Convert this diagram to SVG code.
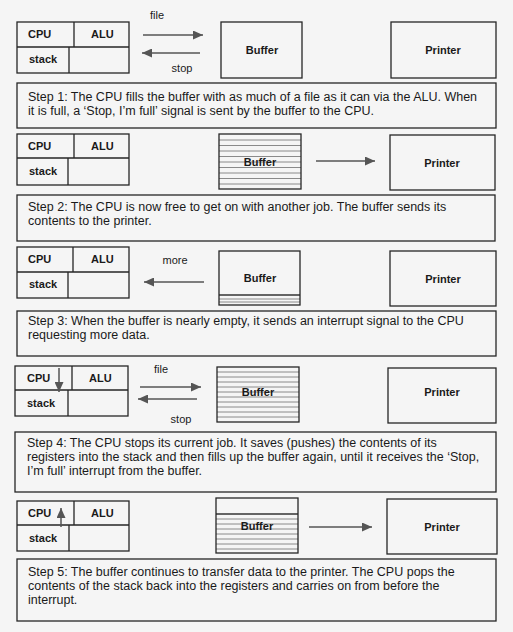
<svg xmlns="http://www.w3.org/2000/svg" width="513" height="632" viewBox="0 0 513 632">
<style>
.box{fill:none;stroke:#262626;stroke-width:1.3}
.ln{stroke:#262626;stroke-width:1.3;fill:none}
.lbl{font-family:"Liberation Sans",Arial,sans-serif;font-size:11px;font-weight:bold;fill:#1a1a1a}
.cap{font-family:"Liberation Sans",Arial,sans-serif;font-size:11px;fill:#1a1a1a;text-anchor:middle}
.txt{font-family:"Liberation Sans",Arial,sans-serif;font-size:12.5px;fill:#1a1a1a}
.mid{text-anchor:middle}
.hatch{stroke:#8a8a8a;stroke-width:1}
.dark{stroke:#333;stroke-width:1.3}
.arr{stroke:#555;stroke-width:1.5;fill:none;marker-end:url(#ah)}
</style>
<defs>
<marker id="ah" viewBox="0 0 10 9" refX="10" refY="4.5" markerWidth="10" markerHeight="9" markerUnits="userSpaceOnUse" orient="auto">
<path d="M0,0 L10,4.5 L0,9 z" fill="#555"/>
</marker>
</defs>
<rect width="513" height="632" fill="#f5f5f5"/>

<!-- Step 1 -->
<g id="cpu1">
<rect class="box" x="17" y="22" width="112" height="51"/>
<path class="ln" d="M17,47 H129 M74,22 V47 M69,47 V73"/>
<text class="lbl" x="28" y="38">CPU</text>
<text class="lbl" x="91" y="38">ALU</text>
<text class="lbl" x="29" y="63">stack</text>
</g>
<g id="buffer1">
<rect class="box" x="221" y="22" width="81" height="56"/>
<text class="lbl mid" x="262" y="54">Buffer</text>
</g>
<g id="printer1">
<rect class="box" x="391" y="22" width="105" height="56"/>
<text class="lbl mid" x="443" y="54">Printer</text>
</g>
<g id="step1">
<rect class="box" x="17" y="83" width="479" height="45"/>
<text class="txt" x="28" y="101">Step 1: The CPU fills the buffer with as much of a file as it can via the ALU. When</text>
<text class="txt" x="28" y="115">it is full, a ‘Stop, I’m full’ signal is sent by the buffer to the CPU.</text>
</g>

<!-- Step 2 -->
<g id="cpu2">
<rect class="box" x="17" y="134" width="112" height="51"/>
<path class="ln" d="M17,158 H129 M74,134 V158 M68,158 V185"/>
<text class="lbl" x="28" y="150">CPU</text>
<text class="lbl" x="91" y="150">ALU</text>
<text class="lbl" x="29" y="175">stack</text>
</g>
<g id="buffer2">
<path class="hatch" d="M219,140 H301 M219,145.5 H301 M219,151 H301 M219,156.5 H301 M219,162 H301 M219,167.5 H301 M219,173 H301 M219,178.5 H301 M219,184 H301"/>
<rect class="box" x="219" y="134" width="82" height="55"/>
<text class="lbl mid" x="260" y="166">Buffer</text>
</g>
<g id="printer2">
<rect class="box" x="390" y="135" width="105" height="55"/>
<text class="lbl mid" x="442" y="167">Printer</text>
</g>
<g id="step2">
<rect class="box" x="17" y="195" width="478" height="46"/>
<text class="txt" x="28" y="211">Step 2: The CPU is now free to get on with another job. The buffer sends its</text>
<text class="txt" x="28" y="225">contents to the printer.</text>
</g>

<!-- Step 3 -->
<g id="cpu3">
<rect class="box" x="17" y="247" width="112" height="51"/>
<path class="ln" d="M17,272 H129 M73,247 V272 M68,272 V298"/>
<text class="lbl" x="28" y="263">CPU</text>
<text class="lbl" x="91" y="263">ALU</text>
<text class="lbl" x="29" y="288">stack</text>
</g>
<g id="buffer3">
<path class="hatch" d="M219,299 H300 M219,302 H300"/>
<path class="dark" d="M219,295 H300"/>
<rect class="box" x="219" y="251" width="81" height="54"/>
<text class="lbl mid" x="260" y="282">Buffer</text>
</g>
<g id="printer3">
<rect class="box" x="390" y="251" width="106" height="55"/>
<text class="lbl mid" x="443" y="283">Printer</text>
</g>
<g id="step3">
<rect class="box" x="17" y="311" width="479" height="45"/>
<text class="txt" x="28" y="325">Step 3: When the buffer is nearly empty, it sends an interrupt signal to the CPU</text>
<text class="txt" x="28" y="339">requesting more data.</text>
</g>

<!-- Step 4 -->
<g id="cpu4">
<rect class="box" x="15" y="366" width="113" height="50"/>
<path class="ln" d="M15,390 H128 M72,366 V390 M68,390 V416"/>
<text class="lbl" x="27" y="382">CPU</text>
<text class="lbl" x="89" y="382">ALU</text>
<text class="lbl" x="27" y="407">stack</text>
</g>
<g id="buffer4">
<path class="hatch" d="M217,372 H299 M217,377 H299 M217,382 H299 M217,387 H299 M217,392 H299 M217,397 H299 M217,402 H299 M217,407 H299 M217,412 H299 M217,417 H299"/>
<rect class="box" x="217" y="367" width="82" height="55"/>
<text class="lbl mid" x="258" y="396">Buffer</text>
</g>
<g id="printer4">
<rect class="box" x="388" y="368" width="108" height="55"/>
<text class="lbl mid" x="442" y="396">Printer</text>
</g>
<g id="step4">
<rect class="box" x="15" y="432" width="481" height="60"/>
<text class="txt" x="27" y="447">Step 4: The CPU stops its current job. It saves (pushes) the contents of its</text>
<text class="txt" x="27" y="461">registers into the stack and then fills up the buffer again, until it receives the ‘Stop,</text>
<text class="txt" x="27" y="475">I’m full’ interrupt from the buffer.</text>
</g>

<!-- Step 5 -->
<g id="cpu5">
<rect class="box" x="17" y="501" width="112" height="50"/>
<path class="ln" d="M17,525 H129 M74,501 V525 M69,525 V551"/>
<text class="lbl" x="28" y="517">CPU</text>
<text class="lbl" x="91" y="517">ALU</text>
<text class="lbl" x="29" y="542">stack</text>
</g>
<g id="buffer5">
<path class="hatch" d="M216,519 H298 M216,524 H298 M216,529 H298 M216,534 H298 M216,539 H298 M216,544 H298 M216,549 H298"/>
<path class="dark" d="M216,514 H298"/>
<rect class="box" x="216" y="498" width="82" height="55"/>
<text class="lbl mid" x="257" y="530">Buffer</text>
</g>
<g id="printer5">
<rect class="box" x="387" y="499" width="110" height="55"/>
<text class="lbl mid" x="442" y="531">Printer</text>
</g>
<g id="step5">
<rect class="box" x="17" y="559" width="479" height="62"/>
<text class="txt" x="28" y="576">Step 5: The buffer continues to transfer data to the printer. The CPU pops the</text>
<text class="txt" x="28" y="590">contents of the stack back into the registers and carries on from before the</text>
<text class="txt" x="28" y="604">interrupt.</text>
</g>

<!-- Connectors -->
<g id="connectors">
<path class="arr" d="M143,35 H203"/>
<path class="arr" d="M200,53 H142"/>
<text class="cap" x="157" y="19">file</text>
<text class="cap" x="182" y="72">stop</text>
<path class="arr" d="M316,161 H375"/>
<path class="arr" d="M204,282 H144"/>
<text class="cap" x="175" y="264">more</text>
<path class="arr" d="M140,387 H201"/>
<path class="arr" d="M197,399 H138"/>
<text class="cap" x="161" y="373">file</text>
<text class="cap" x="181" y="423">stop</text>
<path class="arr" d="M309,527 H372"/>
<path class="arr" d="M59,368 V392"/>
<path class="arr" d="M61,527 V508"/>
</g>
</svg>
